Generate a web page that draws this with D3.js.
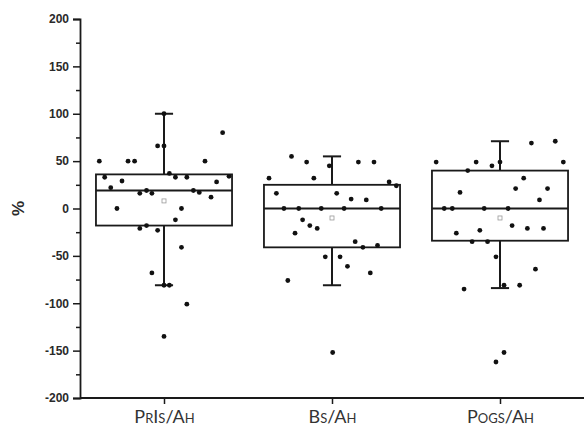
<!DOCTYPE html>
<html>
<head>
<meta charset="utf-8">
<script src="https://cdn.jsdelivr.net/npm/d3@7"></script>
<style>
  html, body { margin: 0; padding: 0; background: #fff; }
  svg { display: block; }
</style>
</head>
<body>
<svg id="chart" width="584" height="430"></svg>
<script>
// ---- data ----
const categories = ["PrIs/Ah", "Bs/Ah", "Pogs/Ah"];
const yTicks = [-200, -150, -100, -50, 0, 50, 100, 150, 200];
const yMinorTicks = [-175, -125, -75, -25, 25, 75, 125, 175];

// box statistics: [whiskerLow, q1, median, q3, whiskerHigh, mean]
const statsPrIs = [-81, -18, 19, 36, 100, 8];
const statsBs   = [-81, -41, 0, 25, 55, -10];
const statsPogs = [-84, -34, 0, 40, 71, -10];

// individual points: [horizontal jitter (category units), value %]
const pointsPrIs = [
  [-0.385, 50], [-0.214, 50], [-0.175, 50], [0.244, 50], [0.349, 80],
  [-0.038, 66], [0, 66], [0, 100], [-0.353, 33], [-0.25, 29],
  [-0.317, 22], [-0.144, 16], [-0.104, 19], [-0.072, 16], [0.032, 37],
  [0.068, 33], [0.136, 33], [0.175, 19], [0.21, 17], [0.28, 12],
  [0.313, 28], [0.387, 34], [-0.28, 0], [0.104, 0], [0.068, -12],
  [-0.144, -21], [-0.104, -18], [-0.038, -23], [0.104, -41], [-0.072, -68],
  [0, -81], [0.032, -81], [0.136, -101], [0, -135]
];
const pointsBs = [
  [-0.241, 55], [-0.151, 49], [-0.016, 45], [0.157, 49], [0.25, 49],
  [-0.375, 32], [-0.108, 32], [0.34, 28], [0.383, 24], [-0.331, 16],
  [0.028, 16], [0.114, 10], [0.204, 9], [-0.286, 0], [-0.198, 0],
  [-0.064, 0], [0.072, 0], [0.293, 0], [-0.175, -12], [-0.132, -18],
  [-0.088, -21], [-0.22, -26], [0.138, -35], [0.184, -41], [0.271, -39],
  [-0.04, -51], [0.048, -51], [0.092, -61], [0.228, -68], [-0.263, -76],
  [0.004, -152]
];
const pointsPogs = [
  [-0.38, 49], [-0.142, 49], [-0.048, 45], [0, 49], [0.187, 69],
  [0.329, 71], [0.377, 49], [-0.192, 40], [0.141, 32], [-0.238, 17],
  [0.093, 21], [0.283, 21], [0.235, 9], [-0.332, 0], [-0.284, 0],
  [-0.094, 0], [0.048, 0], [0.072, -18], [0.163, -21], [0.259, -21],
  [-0.26, -26], [-0.12, -23], [-0.166, -35], [-0.074, -35], [-0.024, -51],
  [0.211, -64], [-0.214, -85], [0.024, -81], [0.117, -81], [0.024, -152],
  [-0.024, -162]
];

const allStats = [statsPrIs, statsBs, statsPogs];
const allPoints = [pointsPrIs, pointsBs, pointsPogs];

// ---- layout ----
const svg = d3.select("#chart");
const x = d3.scaleLinear().domain([0.5, 3.5]).range([80, 584]);
const y = d3.scaleLinear().domain([-200, 200]).range([398, 19]);
const ink = "#1a1a1a";
const boxHalf = 0.405;
const capHalf = 0.054;

// boxes
const g = svg.append("g");
allStats.forEach((s, i) => {
  const c = i + 1;
  const [lo, q1, med, q3, hi, mean] = s;
  const grp = g.append("g");
  grp.append("line").attr("x1", x(c)).attr("x2", x(c)).attr("y1", y(q3)).attr("y2", y(hi))
    .attr("stroke", ink).attr("stroke-width", 2);
  grp.append("line").attr("x1", x(c)).attr("x2", x(c)).attr("y1", y(q1)).attr("y2", y(lo))
    .attr("stroke", ink).attr("stroke-width", 2);
  grp.append("line").attr("x1", x(c - capHalf)).attr("x2", x(c + capHalf)).attr("y1", y(hi)).attr("y2", y(hi))
    .attr("stroke", ink).attr("stroke-width", 2);
  grp.append("line").attr("x1", x(c - capHalf)).attr("x2", x(c + capHalf)).attr("y1", y(lo)).attr("y2", y(lo))
    .attr("stroke", ink).attr("stroke-width", 2);
  grp.append("rect").attr("x", x(c - boxHalf)).attr("y", y(q3))
    .attr("width", x(c + boxHalf) - x(c - boxHalf)).attr("height", y(q1) - y(q3))
    .attr("fill", "none").attr("stroke", ink).attr("stroke-width", 1.8);
  grp.append("line").attr("x1", x(c - boxHalf)).attr("x2", x(c + boxHalf)).attr("y1", y(med)).attr("y2", y(med))
    .attr("stroke", ink).attr("stroke-width", 1.8);
  grp.append("rect").attr("x", x(c) - 2).attr("y", y(mean) - 2).attr("width", 4).attr("height", 4)
    .attr("fill", "none").attr("stroke", "#999").attr("stroke-width", 0.8);
});

// points
allPoints.forEach((pts, i) => {
  const c = i + 1;
  g.append("g").selectAll("circle").data(pts).join("circle")
    .attr("cx", d => x(c + d[0]))
    .attr("cy", d => y(d[1]))
    .attr("r", 2.4)
    .attr("fill", "#111");
});

// y axis
const yAxis = d3.axisLeft(y).tickValues(yTicks).tickSize(7).tickPadding(4).tickFormat(d => String(d));
const ya = svg.append("g").attr("transform", `translate(${x(0.5)},0)`).call(yAxis);
ya.select(".domain").attr("stroke", ink).attr("stroke-width", 1.8);
ya.selectAll(".tick line").attr("stroke", ink).attr("stroke-width", 1.5);
ya.selectAll(".tick text").attr("font-family", "Liberation Sans, Arial, sans-serif")
  .attr("font-weight", "bold").attr("font-size", 12).attr("fill", "#2a2a2a");
const yMinor = d3.axisLeft(y).tickValues(yMinorTicks).tickSize(4).tickFormat("");
const ym = svg.append("g").attr("transform", `translate(${x(0.5)},0)`).call(yMinor);
ym.select(".domain").remove();
ym.selectAll(".tick line").attr("stroke", ink).attr("stroke-width", 1.5);

// x axis
const xAxis = d3.axisBottom(x).tickValues([1, 2, 3]).tickSize(6).tickPadding(6)
  .tickFormat((d) => categories[d - 1]);
const xa = svg.append("g").attr("transform", `translate(0,${y(-200)})`).call(xAxis);
xa.select(".domain").attr("stroke", ink).attr("stroke-width", 1.8).attr("d", `M${x(0.5)},0H${x(3.5)}`);
xa.selectAll(".tick line").attr("stroke", ink).attr("stroke-width", 1.5);
xa.selectAll(".tick text").attr("font-family", "Lato, Open Sans, sans-serif")
  .attr("font-size", 18).attr("fill", "#333").style("font-variant", "small-caps");

// y label
svg.append("text").attr("transform", `translate(24,${y(0)}) rotate(-90)`)
  .attr("text-anchor", "middle").attr("font-family", "Liberation Sans, Arial, sans-serif")
  .attr("font-weight", "bold").attr("font-size", 17).attr("fill", "#2a2a2a").text("%");
</script>
</body>
</html>
